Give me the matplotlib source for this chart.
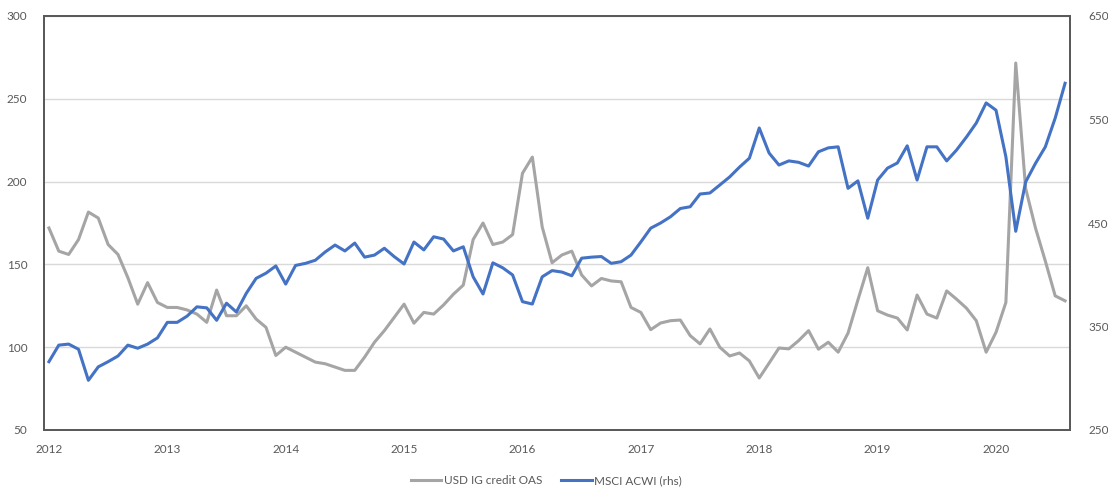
import matplotlib
matplotlib.use("Agg")
import matplotlib.pyplot as plt
import numpy as np

years = [2012, 2013, 2014, 2015, 2016, 2017, 2018, 2019, 2020]

oas = [
    172, 158, 156, 165, 181.6, 178, 162, 156, 142, 126, 139, 127,
    124, 124, 122.5, 120, 115, 134.5, 119, 119, 125, 117, 112, 95,
    100, 97, 94, 91, 90, 88, 86, 86, 94, 103, 110, 118,
    126, 114.5, 121, 120, 125.5, 132, 137.5, 165, 175, 162, 163.5, 168,
    205, 214.8, 172.6, 151, 155.7, 158, 143.6, 137, 141.5, 140, 139.5, 124,
    121, 110.6, 114.6, 116, 116.4, 107, 102, 111, 100, 94.7, 96.5, 91.7,
    81.4, 90.4, 99.5, 99, 104, 110, 98.8, 103, 97, 108.5, 128.5, 148,
    122, 119.4, 117.6, 110.4, 131.5, 120, 117.6, 134, 129, 123.6, 116, 97,
    109, 127, 271.6, 196, 172, 152, 131, 128,
]

acwi = [
    316, 332, 333, 328, 298, 311, 316, 321.5, 332, 329, 333, 339,
    354, 354, 360, 369, 368, 356, 372.5, 364, 382, 396.5, 401.5, 408.5,
    391, 409, 411, 414, 422, 428.7, 423, 430.6, 417, 419, 425.6, 417.5,
    410.4, 431.6, 424, 436.7, 434.5, 423, 427, 398, 381.4, 411.5, 406.7, 399.8,
    374, 371.7, 398, 404, 402.6, 399, 416, 417, 417.6, 411, 412.6, 419,
    431.7, 445, 450, 456, 464, 465.7, 478, 479, 486.7, 494.5, 504, 512.6,
    541.8, 517.6, 506, 510, 508.6, 505, 518.8, 522.6, 523.6, 483.5, 490.7, 454.6,
    491.5, 503, 508, 524.6, 491.5, 523.6, 523.6, 510, 520.5, 533, 546.6, 566,
    559, 514, 442, 489.6, 507.6, 523.6, 551.4, 585,
]

labels = ["USD IG credit OAS", "MSCI ACWI (rhs)"]

months = np.arange(len(oas))

plt.rcParams['font.family'] = ['Lato', 'DejaVu Sans']
txt = '#595959'

fig = plt.figure(figsize=(11.08, 4.97), dpi=100)
ax = fig.add_axes([44/1108, 1-430/497, (1070-44)/1108, (430-16)/497])
ax2 = ax.twinx()

l1, = ax.plot(months, oas, color='#a5a5a5', lw=2.2, label=labels[0], zorder=3)
l2, = ax2.plot(months, acwi, color='#4472c4', lw=2.2, label=labels[1], zorder=3)

ax.set_xlim(-0.5, len(oas) - 0.5)
ax.set_ylim(50, 300)
ax2.set_ylim(250, 650)
ax.set_yticks([50, 100, 150, 200, 250, 300])
ax2.set_yticks([250, 350, 450, 550, 650])
ax.set_xticks([(y - 2012) * 12 for y in years])
ax.set_xticklabels([str(y) for y in years])

ax.grid(axis='y', color='#d9d9d9', lw=1)
ax.set_axisbelow(True)

for a in (ax, ax2):
    a.tick_params(length=0, labelsize=8.5, labelcolor=txt)
    for s in a.spines.values():
        s.set_color('#595959')
        s.set_linewidth(1.3)
ax.tick_params(axis='y', pad=12)
ax2.tick_params(axis='y', pad=13)
ax.tick_params(axis='x', pad=10)

fig.legend(handles=[l1, l2], labels=labels, loc='lower center',
           bbox_to_anchor=(0.493, 0.0), ncol=2, frameon=False,
           fontsize=8.5, labelcolor=txt, handlelength=2.6,
           handletextpad=0.2, columnspacing=1.6)

fig.savefig('out.png', dpi=100)
